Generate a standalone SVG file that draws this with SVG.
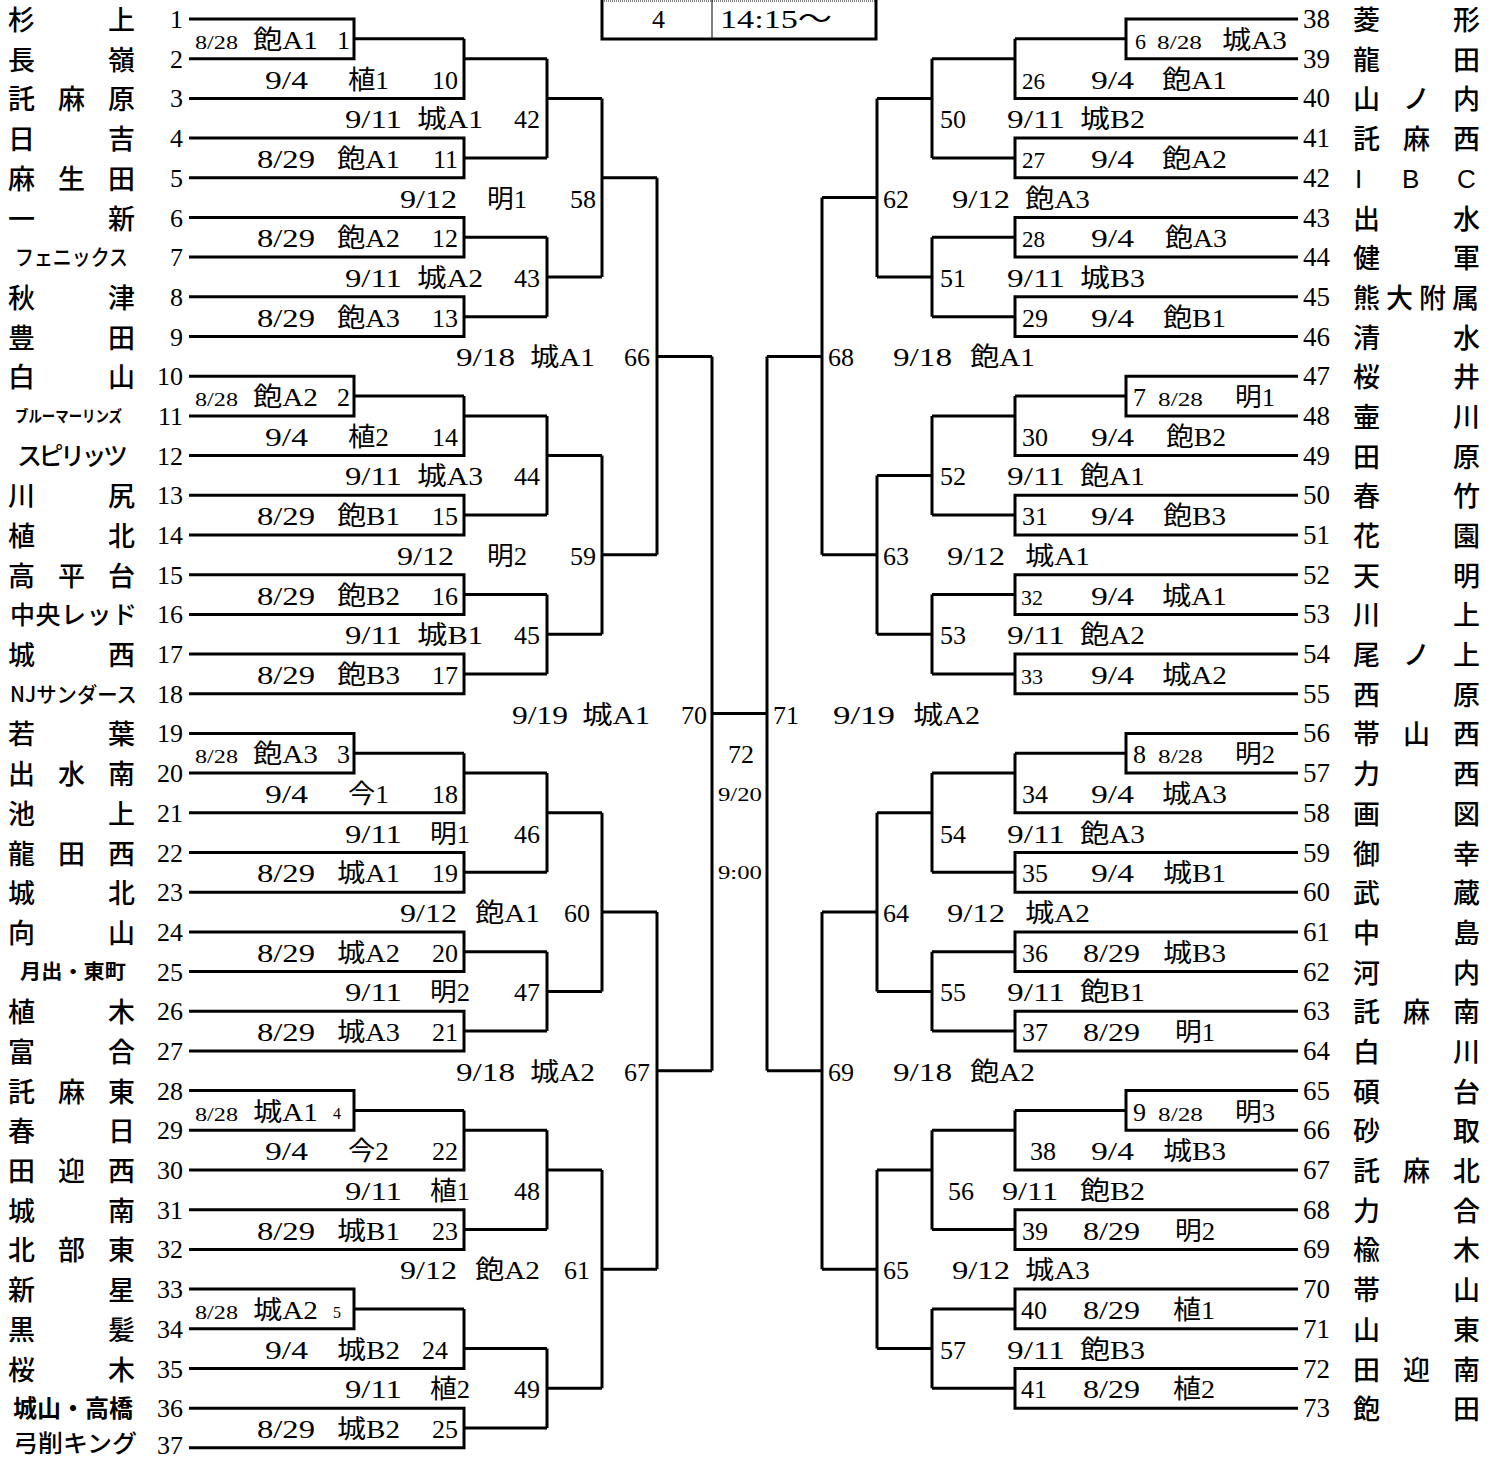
<svg xmlns="http://www.w3.org/2000/svg" width="1498" height="1459" viewBox="0 0 1498 1459">
<style>
.ln{fill:none;stroke:#000;stroke-width:3}
.n{font-family:"Noto Sans CJK JP",sans-serif;font-size:27px;font-weight:500;fill:#000}
.no{font-family:"Liberation Serif",serif;font-size:26px;fill:#000}
.nr{font-family:"Liberation Serif",serif;font-size:27px;fill:#000}
.t{font-family:"Liberation Serif","Noto Sans CJK JP",serif;font-size:26px;fill:#000}
.s{font-family:"Liberation Serif",serif;font-size:18px;fill:#000}
.e{text-anchor:end}
</style>
<rect width="1498" height="1459" fill="#fff"/>

<g id="header">
<path d="M602,0V39.5M876,0V39.5M600.5,39H877.5" class="ln"/>
<path d="M602,1H877" stroke="#000" stroke-width="1" stroke-dasharray="1,1" fill="none"/>
<path d="M712,0V38" stroke="#000" stroke-width="1" fill="none"/>
<text class="no" x="652" y="28">4</text>
<text class="t" x="720" y="28" textLength="112" lengthAdjust="spacingAndGlyphs">14:15～</text>
</g>

<g id="connectors" class="ln">
<path d="M189,19H354V58.7H189M354,38.8H464"/>
<path d="M464,38.8V98.4H189M464,58.7H547"/>
<path d="M189,138.1H464V177.8H189M464,157.9H547"/>
<path d="M189,217.5H464V257.1H189M464,237.3H547"/>
<path d="M189,296.8H464V336.5H189M464,316.7H547"/>
<path d="M547,58.7V157.9M547,98.4H602"/>
<path d="M547,237.3V316.7M547,277H602"/>
<path d="M602,98.4V277M602,177.8H657"/>
<path d="M189,376.2H354V415.9H189M354,396.1H464"/>
<path d="M464,396.1V455.6H189M464,415.9H547"/>
<path d="M189,495.3H464V535H189M464,515.1H547"/>
<path d="M189,574.7H464V614.4H189M464,594.5H547"/>
<path d="M189,654H464V693.7H189M464,673.9H547"/>
<path d="M547,415.9V515.1M547,455.6H602"/>
<path d="M547,594.5V673.9M547,634.2H602"/>
<path d="M602,455.6V634.2M602,554.8H657"/>
<path d="M657,177.8V554.8M657,356.4H712"/>
<path d="M189,733.4H354V773.1H189M354,753.3H464"/>
<path d="M464,753.3V812.8H189M464,773.1H547"/>
<path d="M189,852.5H464V892.2H189M464,872.3H547"/>
<path d="M189,931.9H464V971.6H189M464,951.7H547"/>
<path d="M189,1011.3H464V1050.9H189M464,1031.1H547"/>
<path d="M547,773.1V872.3M547,812.8H602"/>
<path d="M547,951.7V1031.1M547,991.4H602"/>
<path d="M602,812.8V991.4M602,912H657"/>
<path d="M189,1090.6H354V1130.3H189M354,1110.5H464"/>
<path d="M464,1110.5V1170H189M464,1130.3H547"/>
<path d="M189,1209.7H464V1249.4H189M464,1229.5H547"/>
<path d="M189,1289.1H354V1328.8H189M354,1308.9H464"/>
<path d="M464,1308.9V1368.5H189M464,1348.6H547"/>
<path d="M189,1408.2H464V1447.8H189M464,1428H547"/>
<path d="M547,1130.3V1229.5M547,1170H602"/>
<path d="M547,1348.6V1428M547,1388.3H602"/>
<path d="M602,1170V1388.3M602,1269.2H657"/>
<path d="M657,912V1269.2M657,1070.8H712"/>
<path d="M712,356.4V1070.8M712,713.6H767"/>
<path d="M767,356.4V1070.8"/>
<path d="M1298,19H1126V58.7H1298M1126,38.8H1015"/>
<path d="M1015,38.8V98.4H1298M1015,58.7H932"/>
<path d="M1298,138.1H1015V177.8H1298M1015,157.9H932"/>
<path d="M1298,217.5H1015V257.1H1298M1015,237.3H932"/>
<path d="M1298,296.8H1015V336.5H1298M1015,316.7H932"/>
<path d="M932,58.7V157.9M932,98.4H877"/>
<path d="M932,237.3V316.7M932,277H877"/>
<path d="M877,98.4V277M877,197.6H822"/>
<path d="M1298,376.2H1126V415.9H1298M1126,396.1H1015"/>
<path d="M1015,396.1V455.6H1298M1015,415.9H932"/>
<path d="M1298,495.3H1015V535H1298M1015,515.1H932"/>
<path d="M1298,574.7H1015V614.4H1298M1015,594.5H932"/>
<path d="M1298,654H1015V693.7H1298M1015,673.9H932"/>
<path d="M932,415.9V515.1M932,475.4H877"/>
<path d="M932,594.5V673.9M932,634.2H877"/>
<path d="M877,475.4V634.2M877,554.8H822"/>
<path d="M822,197.6V554.8M822,356.4H767"/>
<path d="M1298,733.4H1126V773.1H1298M1126,753.3H1015"/>
<path d="M1015,753.3V812.8H1298M1015,773.1H932"/>
<path d="M1298,852.5H1015V892.2H1298M1015,872.3H932"/>
<path d="M1298,931.9H1015V971.6H1298M1015,951.7H932"/>
<path d="M1298,1011.3H1015V1050.9H1298M1015,1031.1H932"/>
<path d="M932,773.1V872.3M932,812.8H877"/>
<path d="M932,951.7V1031.1M932,991.4H877"/>
<path d="M877,812.8V991.4M877,912H822"/>
<path d="M1298,1090.6H1126V1130.3H1298M1126,1110.5H1015"/>
<path d="M1015,1110.5V1170H1298M1015,1130.3H932"/>
<path d="M1298,1209.7H1015V1249.4H1298M1015,1229.5H932"/>
<path d="M1298,1289.1H1015V1328.8H1298M1015,1308.9H932"/>
<path d="M1298,1368.5H1015V1408.2H1298M1015,1388.3H932"/>
<path d="M932,1130.3V1229.5M932,1170H877"/>
<path d="M932,1308.9V1388.3M932,1348.6H877"/>
<path d="M877,1170V1348.6M877,1269.2H822"/>
<path d="M822,912V1269.2M822,1070.8H767"/>
</g>

<g id="teams-left">
<g id="t1"><text class="n" x="8 108" y="30">杉上</text><text class="no e" x="183" y="28">1</text></g>
<g id="t2"><text class="n" x="8 108" y="69.7">長嶺</text><text class="no e" x="183" y="67.7">2</text></g>
<g id="t3"><text class="n" x="8 58 108" y="109.4">託麻原</text><text class="no e" x="183" y="107.4">3</text></g>
<g id="t4"><text class="n" x="8 108" y="149.1">日吉</text><text class="no e" x="183" y="147.1">4</text></g>
<g id="t5"><text class="n" x="8 58 108" y="188.8">麻生田</text><text class="no e" x="183" y="186.8">5</text></g>
<g id="t6"><text class="n" x="8 108" y="228.5">一新</text><text class="no e" x="183" y="226.5">6</text></g>
<g id="t7"><text class="n" x="15" y="265" style="font-size:22px" textLength="113" lengthAdjust="spacingAndGlyphs">フェニックス</text><text class="no e" x="183" y="266.1">7</text></g>
<g id="t8"><text class="n" x="8 108" y="307.8">秋津</text><text class="no e" x="183" y="305.8">8</text></g>
<g id="t9"><text class="n" x="8 108" y="347.5">豊田</text><text class="no e" x="183" y="345.5">9</text></g>
<g id="t10"><text class="n" x="8 108" y="387.2">白山</text><text class="no e" x="183" y="385.2">10</text></g>
<g id="t11"><text class="n" x="15" y="422" style="font-size:16px;font-weight:700" textLength="107" lengthAdjust="spacingAndGlyphs">ブルーマーリンズ</text><text class="no e" x="183" y="424.9">11</text></g>
<g id="t12"><text class="n" x="17" y="465" style="font-size:25px" textLength="111">スピリッツ</text><text class="no e" x="183" y="464.6">12</text></g>
<g id="t13"><text class="n" x="8 108" y="506.3">川尻</text><text class="no e" x="183" y="504.3">13</text></g>
<g id="t14"><text class="n" x="8 108" y="546">植北</text><text class="no e" x="183" y="544">14</text></g>
<g id="t15"><text class="n" x="8 58 108" y="585.7">高平台</text><text class="no e" x="183" y="583.7">15</text></g>
<g id="t16"><text class="n" x="10" y="624" style="font-size:25px" textLength="127">中央レッド</text><text class="no e" x="183" y="623.4">16</text></g>
<g id="t17"><text class="n" x="8 108" y="665">城西</text><text class="no e" x="183" y="663">17</text></g>
<g id="t18"><text class="n" x="10" y="701.5" style="font-size:21px" textLength="127" lengthAdjust="spacingAndGlyphs">NJサンダース</text><text class="no e" x="183" y="702.7">18</text></g>
<g id="t19"><text class="n" x="8 108" y="744.4">若葉</text><text class="no e" x="183" y="742.4">19</text></g>
<g id="t20"><text class="n" x="8 58 108" y="784.1">出水南</text><text class="no e" x="183" y="782.1">20</text></g>
<g id="t21"><text class="n" x="8 108" y="823.8">池上</text><text class="no e" x="183" y="821.8">21</text></g>
<g id="t22"><text class="n" x="8 58 108" y="863.5">龍田西</text><text class="no e" x="183" y="861.5">22</text></g>
<g id="t23"><text class="n" x="8 108" y="903.2">城北</text><text class="no e" x="183" y="901.2">23</text></g>
<g id="t24"><text class="n" x="8 108" y="942.9">向山</text><text class="no e" x="183" y="940.9">24</text></g>
<g id="t25"><text class="n" x="20" y="979" style="font-size:20px;font-weight:700" textLength="106" lengthAdjust="spacingAndGlyphs">月出・東町</text><text class="no e" x="183" y="980.6">25</text></g>
<g id="t26"><text class="n" x="8 108" y="1022.3">植木</text><text class="no e" x="183" y="1020.3">26</text></g>
<g id="t27"><text class="n" x="8 108" y="1061.9">富合</text><text class="no e" x="183" y="1059.9">27</text></g>
<g id="t28"><text class="n" x="8 58 108" y="1101.6">託麻東</text><text class="no e" x="183" y="1099.6">28</text></g>
<g id="t29"><text class="n" x="8 108" y="1141.3">春日</text><text class="no e" x="183" y="1139.3">29</text></g>
<g id="t30"><text class="n" x="8 58 108" y="1181">田迎西</text><text class="no e" x="183" y="1179">30</text></g>
<g id="t31"><text class="n" x="8 108" y="1220.7">城南</text><text class="no e" x="183" y="1218.7">31</text></g>
<g id="t32"><text class="n" x="8 58 108" y="1260.4">北部東</text><text class="no e" x="183" y="1258.4">32</text></g>
<g id="t33"><text class="n" x="8 108" y="1300.1">新星</text><text class="no e" x="183" y="1298.1">33</text></g>
<g id="t34"><text class="n" x="8 108" y="1339.8">黒髪</text><text class="no e" x="183" y="1337.8">34</text></g>
<g id="t35"><text class="n" x="8 108" y="1379.5">桜木</text><text class="no e" x="183" y="1377.5">35</text></g>
<g id="t36"><text class="n" x="13" y="1417" style="font-size:24px;font-weight:700" textLength="120" lengthAdjust="spacingAndGlyphs">城山・高橋</text><text class="no e" x="183" y="1417.2">36</text></g>
<g id="t37"><text class="n" x="13" y="1452" style="font-size:24px" textLength="124" lengthAdjust="spacingAndGlyphs">弓削キング</text><text class="no e" x="183" y="1454">37</text></g>
</g>

<g id="teams-right">
<g id="t38"><text class="nr" x="1303" y="28">38</text><text class="n" x="1353 1453" y="30">菱形</text></g>
<g id="t39"><text class="nr" x="1303" y="67.7">39</text><text class="n" x="1353 1453" y="69.7">龍田</text></g>
<g id="t40"><text class="nr" x="1303" y="107.4">40</text><text class="n" x="1353 1403 1453" y="109.4">山ノ内</text></g>
<g id="t41"><text class="nr" x="1303" y="147.1">41</text><text class="n" x="1353 1403 1453" y="149.1">託麻西</text></g>
<g id="t42"><text class="nr" x="1303" y="186.8">42</text><text x="1355 1402 1457" y="188" style="font-family:'Liberation Sans',sans-serif;font-size:26px">IBC</text></g>
<g id="t43"><text class="nr" x="1303" y="226.5">43</text><text class="n" x="1353 1453" y="228.5">出水</text></g>
<g id="t44"><text class="nr" x="1303" y="266.1">44</text><text class="n" x="1353 1453" y="268.1">健軍</text></g>
<g id="t45"><text class="nr" x="1303" y="305.8">45</text><text class="n" x="1353 1386 1419 1452" y="307.8">熊大附属</text></g>
<g id="t46"><text class="nr" x="1303" y="345.5">46</text><text class="n" x="1353 1453" y="347.5">清水</text></g>
<g id="t47"><text class="nr" x="1303" y="385.2">47</text><text class="n" x="1353 1453" y="387.2">桜井</text></g>
<g id="t48"><text class="nr" x="1303" y="424.9">48</text><text class="n" x="1353 1453" y="426.9">壷川</text></g>
<g id="t49"><text class="nr" x="1303" y="464.6">49</text><text class="n" x="1353 1453" y="466.6">田原</text></g>
<g id="t50"><text class="nr" x="1303" y="504.3">50</text><text class="n" x="1353 1453" y="506.3">春竹</text></g>
<g id="t51"><text class="nr" x="1303" y="544">51</text><text class="n" x="1353 1453" y="546">花園</text></g>
<g id="t52"><text class="nr" x="1303" y="583.7">52</text><text class="n" x="1353 1453" y="585.7">天明</text></g>
<g id="t53"><text class="nr" x="1303" y="623.4">53</text><text class="n" x="1353 1453" y="625.4">川上</text></g>
<g id="t54"><text class="nr" x="1303" y="663">54</text><text class="n" x="1353 1403 1453" y="665">尾ノ上</text></g>
<g id="t55"><text class="nr" x="1303" y="702.7">55</text><text class="n" x="1353 1453" y="704.7">西原</text></g>
<g id="t56"><text class="nr" x="1303" y="742.4">56</text><text class="n" x="1353 1403 1453" y="744.4">帯山西</text></g>
<g id="t57"><text class="nr" x="1303" y="782.1">57</text><text class="n" x="1353 1453" y="784.1">力西</text></g>
<g id="t58"><text class="nr" x="1303" y="821.8">58</text><text class="n" x="1353 1453" y="823.8">画図</text></g>
<g id="t59"><text class="nr" x="1303" y="861.5">59</text><text class="n" x="1353 1453" y="863.5">御幸</text></g>
<g id="t60"><text class="nr" x="1303" y="901.2">60</text><text class="n" x="1353 1453" y="903.2">武蔵</text></g>
<g id="t61"><text class="nr" x="1303" y="940.9">61</text><text class="n" x="1353 1453" y="942.9">中島</text></g>
<g id="t62"><text class="nr" x="1303" y="980.6">62</text><text class="n" x="1353 1453" y="982.6">河内</text></g>
<g id="t63"><text class="nr" x="1303" y="1020.3">63</text><text class="n" x="1353 1403 1453" y="1022.3">託麻南</text></g>
<g id="t64"><text class="nr" x="1303" y="1059.9">64</text><text class="n" x="1353 1453" y="1061.9">白川</text></g>
<g id="t65"><text class="nr" x="1303" y="1099.6">65</text><text class="n" x="1353 1453" y="1101.6">碩台</text></g>
<g id="t66"><text class="nr" x="1303" y="1139.3">66</text><text class="n" x="1353 1453" y="1141.3">砂取</text></g>
<g id="t67"><text class="nr" x="1303" y="1179">67</text><text class="n" x="1353 1403 1453" y="1181">託麻北</text></g>
<g id="t68"><text class="nr" x="1303" y="1218.7">68</text><text class="n" x="1353 1453" y="1220.7">力合</text></g>
<g id="t69"><text class="nr" x="1303" y="1258.4">69</text><text class="n" x="1353 1453" y="1260.4">楡木</text></g>
<g id="t70"><text class="nr" x="1303" y="1298.1">70</text><text class="n" x="1353 1453" y="1300.1">帯山</text></g>
<g id="t71"><text class="nr" x="1303" y="1337.8">71</text><text class="n" x="1353 1453" y="1339.8">山東</text></g>
<g id="t72"><text class="nr" x="1303" y="1377.5">72</text><text class="n" x="1353 1403 1453" y="1379.5">田迎南</text></g>
<g id="t73"><text class="nr" x="1303" y="1417.2">73</text><text class="n" x="1353 1453" y="1419.2">飽田</text></g>
</g>

<g id="games-left">
<g id="g1"><text class="s" x="195" y="48.8" textLength="43" lengthAdjust="spacingAndGlyphs">8/28</text><text class="t" x="253" y="48.8" textLength="65" lengthAdjust="spacingAndGlyphs">飽A1</text><text class="t" x="337" y="48.8">1</text></g>
<g id="g2"><text class="s" x="195" y="406.1" textLength="43" lengthAdjust="spacingAndGlyphs">8/28</text><text class="t" x="253" y="406.1" textLength="65" lengthAdjust="spacingAndGlyphs">飽A2</text><text class="t" x="337" y="406.1">2</text></g>
<g id="g3"><text class="s" x="195" y="763.3" textLength="43" lengthAdjust="spacingAndGlyphs">8/28</text><text class="t" x="253" y="763.3" textLength="65" lengthAdjust="spacingAndGlyphs">飽A3</text><text class="t" x="337" y="763.3">3</text></g>
<g id="g4"><text class="s" x="195" y="1120.5" textLength="43" lengthAdjust="spacingAndGlyphs">8/28</text><text class="t" x="253" y="1120.5" textLength="65" lengthAdjust="spacingAndGlyphs">城A1</text><text class="s" x="333" y="1119" style="font-size:16px">4</text></g>
<g id="g5"><text class="s" x="195" y="1318.9" textLength="43" lengthAdjust="spacingAndGlyphs">8/28</text><text class="t" x="253" y="1318.9" textLength="65" lengthAdjust="spacingAndGlyphs">城A2</text><text class="s" x="333" y="1317.5" style="font-size:16px">5</text></g>
<g id="g10"><text class="t" x="265" y="88.5" textLength="43" lengthAdjust="spacingAndGlyphs">9/4</text><text class="t" x="348" y="88.5" textLength="41" lengthAdjust="spacingAndGlyphs">植1</text><text class="t e" x="458" y="88.5">10</text></g>
<g id="g14"><text class="t" x="265" y="445.7" textLength="43" lengthAdjust="spacingAndGlyphs">9/4</text><text class="t" x="348" y="445.7" textLength="41" lengthAdjust="spacingAndGlyphs">植2</text><text class="t e" x="458" y="445.7">14</text></g>
<g id="g18"><text class="t" x="265" y="803" textLength="43" lengthAdjust="spacingAndGlyphs">9/4</text><text class="t" x="348" y="803" textLength="41" lengthAdjust="spacingAndGlyphs">今1</text><text class="t e" x="458" y="803">18</text></g>
<g id="g22"><text class="t" x="265" y="1160.2" textLength="43" lengthAdjust="spacingAndGlyphs">9/4</text><text class="t" x="348" y="1160.2" textLength="41" lengthAdjust="spacingAndGlyphs">今2</text><text class="t e" x="458" y="1160.2">22</text></g>
<g id="g24"><text class="t" x="265" y="1358.6" textLength="43" lengthAdjust="spacingAndGlyphs">9/4</text><text class="t" x="337" y="1358.6" textLength="63" lengthAdjust="spacingAndGlyphs">城B2</text><text class="t e" x="448" y="1358.6">24</text></g>
<g id="g11"><text class="t" x="257" y="167.9" textLength="58" lengthAdjust="spacingAndGlyphs">8/29</text><text class="t" x="337" y="167.9" textLength="63" lengthAdjust="spacingAndGlyphs">飽A1</text><text class="t e" x="458" y="167.9">11</text></g>
<g id="g12"><text class="t" x="257" y="247.3" textLength="58" lengthAdjust="spacingAndGlyphs">8/29</text><text class="t" x="337" y="247.3" textLength="63" lengthAdjust="spacingAndGlyphs">飽A2</text><text class="t e" x="458" y="247.3">12</text></g>
<g id="g13"><text class="t" x="257" y="326.7" textLength="58" lengthAdjust="spacingAndGlyphs">8/29</text><text class="t" x="337" y="326.7" textLength="63" lengthAdjust="spacingAndGlyphs">飽A3</text><text class="t e" x="458" y="326.7">13</text></g>
<g id="g15"><text class="t" x="257" y="525.1" textLength="58" lengthAdjust="spacingAndGlyphs">8/29</text><text class="t" x="337" y="525.1" textLength="63" lengthAdjust="spacingAndGlyphs">飽B1</text><text class="t e" x="458" y="525.1">15</text></g>
<g id="g16"><text class="t" x="257" y="604.5" textLength="58" lengthAdjust="spacingAndGlyphs">8/29</text><text class="t" x="337" y="604.5" textLength="63" lengthAdjust="spacingAndGlyphs">飽B2</text><text class="t e" x="458" y="604.5">16</text></g>
<g id="g17"><text class="t" x="257" y="683.9" textLength="58" lengthAdjust="spacingAndGlyphs">8/29</text><text class="t" x="337" y="683.9" textLength="63" lengthAdjust="spacingAndGlyphs">飽B3</text><text class="t e" x="458" y="683.9">17</text></g>
<g id="g19"><text class="t" x="257" y="882.3" textLength="58" lengthAdjust="spacingAndGlyphs">8/29</text><text class="t" x="337" y="882.3" textLength="63" lengthAdjust="spacingAndGlyphs">城A1</text><text class="t e" x="458" y="882.3">19</text></g>
<g id="g20"><text class="t" x="257" y="961.7" textLength="58" lengthAdjust="spacingAndGlyphs">8/29</text><text class="t" x="337" y="961.7" textLength="63" lengthAdjust="spacingAndGlyphs">城A2</text><text class="t e" x="458" y="961.7">20</text></g>
<g id="g21"><text class="t" x="257" y="1041.1" textLength="58" lengthAdjust="spacingAndGlyphs">8/29</text><text class="t" x="337" y="1041.1" textLength="63" lengthAdjust="spacingAndGlyphs">城A3</text><text class="t e" x="458" y="1041.1">21</text></g>
<g id="g23"><text class="t" x="257" y="1239.5" textLength="58" lengthAdjust="spacingAndGlyphs">8/29</text><text class="t" x="337" y="1239.5" textLength="63" lengthAdjust="spacingAndGlyphs">城B1</text><text class="t e" x="458" y="1239.5">23</text></g>
<g id="g25"><text class="t" x="257" y="1438" textLength="58" lengthAdjust="spacingAndGlyphs">8/29</text><text class="t" x="337" y="1438" textLength="63" lengthAdjust="spacingAndGlyphs">城B2</text><text class="t e" x="458" y="1438">25</text></g>
<g id="g42"><text class="t" x="345" y="128.2" textLength="57" lengthAdjust="spacingAndGlyphs">9/11</text><text class="t" x="417" y="128.2" textLength="66" lengthAdjust="spacingAndGlyphs">城A1</text><text class="t e" x="540" y="128.2">42</text></g>
<g id="g43"><text class="t" x="345" y="287" textLength="57" lengthAdjust="spacingAndGlyphs">9/11</text><text class="t" x="417" y="287" textLength="66" lengthAdjust="spacingAndGlyphs">城A2</text><text class="t e" x="540" y="287">43</text></g>
<g id="g44"><text class="t" x="345" y="485.4" textLength="57" lengthAdjust="spacingAndGlyphs">9/11</text><text class="t" x="417" y="485.4" textLength="66" lengthAdjust="spacingAndGlyphs">城A3</text><text class="t e" x="540" y="485.4">44</text></g>
<g id="g45"><text class="t" x="345" y="644.2" textLength="57" lengthAdjust="spacingAndGlyphs">9/11</text><text class="t" x="417" y="644.2" textLength="66" lengthAdjust="spacingAndGlyphs">城B1</text><text class="t e" x="540" y="644.2">45</text></g>
<g id="g46"><text class="t" x="345" y="842.6" textLength="57" lengthAdjust="spacingAndGlyphs">9/11</text><text class="t" x="430" y="842.6" textLength="40" lengthAdjust="spacingAndGlyphs">明1</text><text class="t e" x="540" y="842.6">46</text></g>
<g id="g47"><text class="t" x="345" y="1001.4" textLength="57" lengthAdjust="spacingAndGlyphs">9/11</text><text class="t" x="430" y="1001.4" textLength="40" lengthAdjust="spacingAndGlyphs">明2</text><text class="t e" x="540" y="1001.4">47</text></g>
<g id="g48"><text class="t" x="345" y="1199.9" textLength="57" lengthAdjust="spacingAndGlyphs">9/11</text><text class="t" x="430" y="1199.9" textLength="40" lengthAdjust="spacingAndGlyphs">植1</text><text class="t e" x="540" y="1199.9">48</text></g>
<g id="g49"><text class="t" x="345" y="1398.3" textLength="57" lengthAdjust="spacingAndGlyphs">9/11</text><text class="t" x="430" y="1398.3" textLength="40" lengthAdjust="spacingAndGlyphs">植2</text><text class="t e" x="540" y="1398.3">49</text></g>
<g id="g58"><text class="t" x="400" y="207.6" textLength="57" lengthAdjust="spacingAndGlyphs">9/12</text><text class="t" x="487" y="207.6" textLength="40" lengthAdjust="spacingAndGlyphs">明1</text><text class="t e" x="596" y="207.6">58</text></g>
<g id="g59"><text class="t" x="397" y="564.8" textLength="57" lengthAdjust="spacingAndGlyphs">9/12</text><text class="t" x="487" y="564.8" textLength="40" lengthAdjust="spacingAndGlyphs">明2</text><text class="t e" x="596" y="564.8">59</text></g>
<g id="g60"><text class="t" x="400" y="922" textLength="57" lengthAdjust="spacingAndGlyphs">9/12</text><text class="t" x="475" y="922" textLength="65" lengthAdjust="spacingAndGlyphs">飽A1</text><text class="t e" x="590" y="922">60</text></g>
<g id="g61"><text class="t" x="400" y="1279.2" textLength="57" lengthAdjust="spacingAndGlyphs">9/12</text><text class="t" x="475" y="1279.2" textLength="65" lengthAdjust="spacingAndGlyphs">飽A2</text><text class="t e" x="590" y="1279.2">61</text></g>
<g id="g66"><text class="t" x="456" y="366.4" textLength="59" lengthAdjust="spacingAndGlyphs">9/18</text><text class="t" x="530" y="366.4" textLength="65" lengthAdjust="spacingAndGlyphs">城A1</text><text class="t e" x="650" y="366.4">66</text></g>
<g id="g67"><text class="t" x="456" y="1080.8" textLength="59" lengthAdjust="spacingAndGlyphs">9/18</text><text class="t" x="530" y="1080.8" textLength="65" lengthAdjust="spacingAndGlyphs">城A2</text><text class="t e" x="650" y="1080.8">67</text></g>
<g id="g70"><text class="t" x="512" y="723.6" textLength="56" lengthAdjust="spacingAndGlyphs">9/19</text><text class="t" x="582" y="723.6" textLength="68" lengthAdjust="spacingAndGlyphs">城A1</text><text class="t e" x="707" y="723.6">70</text></g>
<g id="g72"><text class="t" x="728" y="763">72</text><text class="s" x="718" y="801" textLength="44" lengthAdjust="spacingAndGlyphs">9/20</text><text class="s" x="718" y="879" textLength="44" lengthAdjust="spacingAndGlyphs">9:00</text></g>
</g>

<g id="games-right">
<g id="g71"><text class="t" x="773" y="723.6">71</text><text class="t" x="833" y="723.6" textLength="62" lengthAdjust="spacingAndGlyphs">9/19</text><text class="t" x="913" y="723.6" textLength="67" lengthAdjust="spacingAndGlyphs">城A2</text></g>
<g id="g68"><text class="t" x="828" y="366.4">68</text><text class="t" x="893" y="366.4" textLength="59" lengthAdjust="spacingAndGlyphs">9/18</text><text class="t" x="970" y="366.4" textLength="65" lengthAdjust="spacingAndGlyphs">飽A1</text></g>
<g id="g69"><text class="t" x="828" y="1080.8">69</text><text class="t" x="893" y="1080.8" textLength="59" lengthAdjust="spacingAndGlyphs">9/18</text><text class="t" x="970" y="1080.8" textLength="65" lengthAdjust="spacingAndGlyphs">飽A2</text></g>
<g id="g62"><text class="t" x="883" y="207.6">62</text><text class="t" x="952" y="207.6" textLength="58" lengthAdjust="spacingAndGlyphs">9/12</text><text class="t" x="1025" y="207.6" textLength="65" lengthAdjust="spacingAndGlyphs">飽A3</text></g>
<g id="g63"><text class="t" x="883" y="564.8">63</text><text class="t" x="947" y="564.8" textLength="58" lengthAdjust="spacingAndGlyphs">9/12</text><text class="t" x="1025" y="564.8" textLength="65" lengthAdjust="spacingAndGlyphs">城A1</text></g>
<g id="g64"><text class="t" x="883" y="922">64</text><text class="t" x="947" y="922" textLength="58" lengthAdjust="spacingAndGlyphs">9/12</text><text class="t" x="1025" y="922" textLength="65" lengthAdjust="spacingAndGlyphs">城A2</text></g>
<g id="g65"><text class="t" x="883" y="1279.2">65</text><text class="t" x="952" y="1279.2" textLength="58" lengthAdjust="spacingAndGlyphs">9/12</text><text class="t" x="1025" y="1279.2" textLength="65" lengthAdjust="spacingAndGlyphs">城A3</text></g>
<g id="g50"><text class="t" x="940" y="128.2">50</text><text class="t" x="1007" y="128.2" textLength="58" lengthAdjust="spacingAndGlyphs">9/11</text><text class="t" x="1080" y="128.2" textLength="65" lengthAdjust="spacingAndGlyphs">城B2</text></g>
<g id="g51"><text class="t" x="940" y="287">51</text><text class="t" x="1007" y="287" textLength="58" lengthAdjust="spacingAndGlyphs">9/11</text><text class="t" x="1080" y="287" textLength="65" lengthAdjust="spacingAndGlyphs">城B3</text></g>
<g id="g52"><text class="t" x="940" y="485.4">52</text><text class="t" x="1007" y="485.4" textLength="58" lengthAdjust="spacingAndGlyphs">9/11</text><text class="t" x="1080" y="485.4" textLength="65" lengthAdjust="spacingAndGlyphs">飽A1</text></g>
<g id="g53"><text class="t" x="940" y="644.2">53</text><text class="t" x="1007" y="644.2" textLength="58" lengthAdjust="spacingAndGlyphs">9/11</text><text class="t" x="1080" y="644.2" textLength="65" lengthAdjust="spacingAndGlyphs">飽A2</text></g>
<g id="g54"><text class="t" x="940" y="842.6">54</text><text class="t" x="1007" y="842.6" textLength="58" lengthAdjust="spacingAndGlyphs">9/11</text><text class="t" x="1080" y="842.6" textLength="65" lengthAdjust="spacingAndGlyphs">飽A3</text></g>
<g id="g55"><text class="t" x="940" y="1001.4">55</text><text class="t" x="1007" y="1001.4" textLength="58" lengthAdjust="spacingAndGlyphs">9/11</text><text class="t" x="1080" y="1001.4" textLength="65" lengthAdjust="spacingAndGlyphs">飽B1</text></g>
<g id="g56"><text class="t" x="948" y="1199.9">56</text><text class="t" x="1002" y="1199.9" textLength="56" lengthAdjust="spacingAndGlyphs">9/11</text><text class="t" x="1080" y="1199.9" textLength="65" lengthAdjust="spacingAndGlyphs">飽B2</text></g>
<g id="g57"><text class="t" x="940" y="1358.6">57</text><text class="t" x="1007" y="1358.6" textLength="58" lengthAdjust="spacingAndGlyphs">9/11</text><text class="t" x="1080" y="1358.6" textLength="65" lengthAdjust="spacingAndGlyphs">飽B3</text></g>
<g id="g6"><text class="t" x="1135" y="48.8" style="font-size:22px">6</text><text class="s" x="1157" y="48.8" textLength="45" lengthAdjust="spacingAndGlyphs">8/28</text><text class="t" x="1222" y="48.8" textLength="65" lengthAdjust="spacingAndGlyphs">城A3</text></g>
<g id="g7"><text class="t" x="1133" y="406.1">7</text><text class="s" x="1158" y="406.1" textLength="45" lengthAdjust="spacingAndGlyphs">8/28</text><text class="t" x="1235" y="406.1" textLength="40" lengthAdjust="spacingAndGlyphs">明1</text></g>
<g id="g8"><text class="t" x="1133" y="763.3">8</text><text class="s" x="1158" y="763.3" textLength="45" lengthAdjust="spacingAndGlyphs">8/28</text><text class="t" x="1235" y="763.3" textLength="40" lengthAdjust="spacingAndGlyphs">明2</text></g>
<g id="g9"><text class="t" x="1133" y="1120.5">9</text><text class="s" x="1158" y="1120.5" textLength="45" lengthAdjust="spacingAndGlyphs">8/28</text><text class="t" x="1235" y="1120.5" textLength="40" lengthAdjust="spacingAndGlyphs">明3</text></g>
<g id="g26"><text class="t" x="1022" y="88.5" style="font-size:23px">26</text><text class="t" x="1091" y="88.5" textLength="43" lengthAdjust="spacingAndGlyphs">9/4</text><text class="t" x="1162" y="88.5" textLength="65" lengthAdjust="spacingAndGlyphs">飽A1</text></g>
<g id="g27"><text class="t" x="1022" y="167.9" style="font-size:23px">27</text><text class="t" x="1091" y="167.9" textLength="43" lengthAdjust="spacingAndGlyphs">9/4</text><text class="t" x="1162" y="167.9" textLength="65" lengthAdjust="spacingAndGlyphs">飽A2</text></g>
<g id="g28"><text class="t" x="1022" y="247.3" style="font-size:23px">28</text><text class="t" x="1091" y="247.3" textLength="43" lengthAdjust="spacingAndGlyphs">9/4</text><text class="t" x="1165" y="247.3" textLength="62" lengthAdjust="spacingAndGlyphs">飽A3</text></g>
<g id="g29"><text class="t" x="1022" y="326.7">29</text><text class="t" x="1091" y="326.7" textLength="43" lengthAdjust="spacingAndGlyphs">9/4</text><text class="t" x="1163" y="326.7" textLength="63" lengthAdjust="spacingAndGlyphs">飽B1</text></g>
<g id="g30"><text class="t" x="1022" y="445.7">30</text><text class="t" x="1091" y="445.7" textLength="43" lengthAdjust="spacingAndGlyphs">9/4</text><text class="t" x="1166" y="445.7" textLength="60" lengthAdjust="spacingAndGlyphs">飽B2</text></g>
<g id="g31"><text class="t" x="1022" y="525.1">31</text><text class="t" x="1091" y="525.1" textLength="43" lengthAdjust="spacingAndGlyphs">9/4</text><text class="t" x="1163" y="525.1" textLength="63" lengthAdjust="spacingAndGlyphs">飽B3</text></g>
<g id="g32"><text class="t" x="1021" y="604.5" style="font-size:22px">32</text><text class="t" x="1091" y="604.5" textLength="43" lengthAdjust="spacingAndGlyphs">9/4</text><text class="t" x="1162" y="604.5" textLength="65" lengthAdjust="spacingAndGlyphs">城A1</text></g>
<g id="g33"><text class="t" x="1021" y="683.9" style="font-size:22px">33</text><text class="t" x="1091" y="683.9" textLength="43" lengthAdjust="spacingAndGlyphs">9/4</text><text class="t" x="1162" y="683.9" textLength="65" lengthAdjust="spacingAndGlyphs">城A2</text></g>
<g id="g34"><text class="t" x="1022" y="803">34</text><text class="t" x="1091" y="803" textLength="43" lengthAdjust="spacingAndGlyphs">9/4</text><text class="t" x="1162" y="803" textLength="65" lengthAdjust="spacingAndGlyphs">城A3</text></g>
<g id="g35"><text class="t" x="1022" y="882.3">35</text><text class="t" x="1091" y="882.3" textLength="43" lengthAdjust="spacingAndGlyphs">9/4</text><text class="t" x="1163" y="882.3" textLength="63" lengthAdjust="spacingAndGlyphs">城B1</text></g>
<g id="g36"><text class="t" x="1022" y="961.7">36</text><text class="t" x="1083" y="961.7" textLength="57" lengthAdjust="spacingAndGlyphs">8/29</text><text class="t" x="1163" y="961.7" textLength="63" lengthAdjust="spacingAndGlyphs">城B3</text></g>
<g id="g37"><text class="t" x="1022" y="1041.1">37</text><text class="t" x="1083" y="1041.1" textLength="57" lengthAdjust="spacingAndGlyphs">8/29</text><text class="t" x="1175" y="1041.1" textLength="40" lengthAdjust="spacingAndGlyphs">明1</text></g>
<g id="g38"><text class="t" x="1030" y="1160.2">38</text><text class="t" x="1091" y="1160.2" textLength="43" lengthAdjust="spacingAndGlyphs">9/4</text><text class="t" x="1163" y="1160.2" textLength="63" lengthAdjust="spacingAndGlyphs">城B3</text></g>
<g id="g39"><text class="t" x="1022" y="1239.5">39</text><text class="t" x="1083" y="1239.5" textLength="57" lengthAdjust="spacingAndGlyphs">8/29</text><text class="t" x="1175" y="1239.5" textLength="40" lengthAdjust="spacingAndGlyphs">明2</text></g>
<g id="g40"><text class="t" x="1021" y="1318.9">40</text><text class="t" x="1083" y="1318.9" textLength="57" lengthAdjust="spacingAndGlyphs">8/29</text><text class="t" x="1173" y="1318.9" textLength="42" lengthAdjust="spacingAndGlyphs">植1</text></g>
<g id="g41"><text class="t" x="1021" y="1398.3">41</text><text class="t" x="1083" y="1398.3" textLength="57" lengthAdjust="spacingAndGlyphs">8/29</text><text class="t" x="1173" y="1398.3" textLength="42" lengthAdjust="spacingAndGlyphs">植2</text></g>
</g>
</svg>
